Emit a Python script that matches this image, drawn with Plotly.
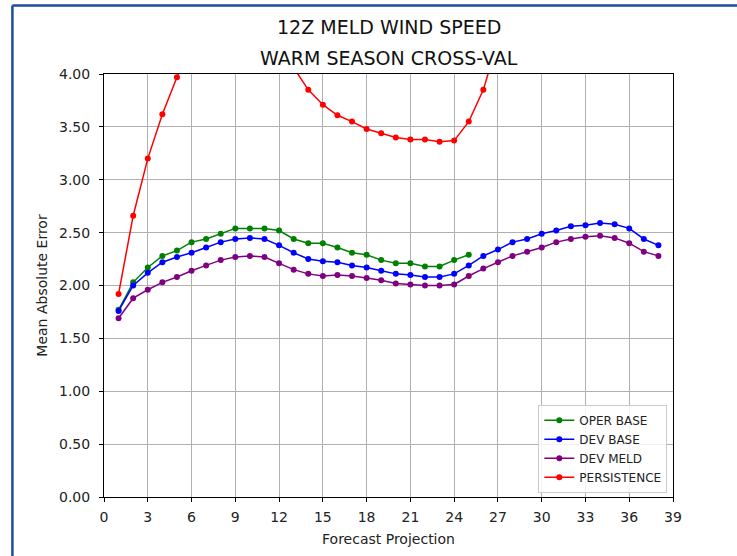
import plotly.graph_objects as go

# Forecast projection (hours) and mean absolute error per guidance product
hours = list(range(1, 39))
oper_base = [1.77, 2.03, 2.17, 2.28, 2.33, 2.41, 2.44, 2.49, 2.54, 2.54,
             2.54, 2.52, 2.44, 2.40, 2.40, 2.36, 2.31, 2.29, 2.24, 2.21,
             2.21, 2.18, 2.18, 2.24, 2.29]
dev_base = [1.76, 2.00, 2.12, 2.22, 2.27, 2.31, 2.36, 2.41, 2.44, 2.45,
            2.44, 2.38, 2.31, 2.25, 2.23, 2.22, 2.19, 2.17, 2.14, 2.11,
            2.10, 2.08, 2.08, 2.11, 2.19, 2.28, 2.34, 2.41, 2.44, 2.49,
            2.52, 2.56, 2.57, 2.59, 2.58, 2.54, 2.44, 2.38]
dev_meld = [1.69, 1.88, 1.96, 2.03, 2.08, 2.14, 2.19, 2.24, 2.27, 2.28,
            2.27, 2.21, 2.15, 2.11, 2.09, 2.10, 2.09, 2.07, 2.05, 2.02,
            2.01, 2.00, 2.00, 2.01, 2.09, 2.16, 2.22, 2.28, 2.32, 2.36,
            2.41, 2.44, 2.46, 2.47, 2.45, 2.40, 2.32, 2.28]
persistence = [1.92, 2.66, 3.20, 3.62, 3.97, 4.30, 4.50, 4.60, 4.65, 4.60,
               4.50, 4.30, 4.06, 3.85, 3.71, 3.61, 3.55, 3.48, 3.44, 3.40,
               3.38, 3.38, 3.36, 3.37, 3.55, 3.85, 4.32]

series = [
    ("OPER BASE", oper_base, "#008000"),
    ("DEV BASE", dev_base, "#0000ff"),
    ("DEV MELD", dev_meld, "#800080"),
    ("PERSISTENCE", persistence, "#ff0000"),
]

x_ticks = list(range(0, 40, 3))
y_ticks = [i * 0.5 for i in range(9)]

FONT = "DejaVu Sans"

fig = go.Figure()
for name, vals, color in series:
    fig.add_trace(go.Scatter(
        x=hours[:len(vals)], y=vals, name=name, mode="lines+markers",
        line=dict(color=color, width=1.5),
        marker=dict(color=color, size=6),
    ))

axis_common = dict(
    showline=True, linecolor="black", linewidth=1, mirror=True,
    showgrid=True, gridcolor="#b0b0b0", gridwidth=1,
    ticks="outside", ticklen=4, tickcolor="black", tickwidth=1,
    zeroline=False,
    tickfont=dict(family=FONT, size=14, color="#222222"),
)

fig.update_xaxes(
    range=[0, 39], tickmode="array", tickvals=x_ticks, ticklabelstandoff=3,
    title=dict(text="Forecast Projection", font=dict(family=FONT, size=14, color="#222222"),
               standoff=10),
    **axis_common,
)
fig.update_yaxes(
    range=[0, 4], tickmode="array", tickvals=y_ticks, tickformat=".2f",
    ticklabelstandoff=6,
    title=dict(text="Mean Absolute Error", font=dict(family=FONT, size=14, color="#222222"),
               standoff=8),
    **axis_common,
)

# Two-line chart heading
for text, ypos in [("12Z MELD WIND SPEED", 1.112), ("WARM SEASON CROSS-VAL", 1.038)]:
    fig.add_annotation(
        text=text, xref="paper", yref="paper", x=0.5, y=ypos,
        xanchor="center", yanchor="middle", showarrow=False,
        font=dict(family=FONT, size=19, color="#111111"),
    )

# Frame lines along the top and left edges of the page
frame = dict(color="#1c4ea0", width=2.5)
fig.add_shape(type="line", xref="paper", yref="paper",
              x0=-0.161, x1=1.2, y0=1.162, y1=1.162, line=frame)
fig.add_shape(type="line", xref="paper", yref="paper",
              x0=-0.161, x1=-0.161, y0=-0.2, y1=1.162, line=frame)

fig.update_layout(
    width=737, height=556,
    margin=dict(l=104, r=64, t=74, b=59),
    paper_bgcolor="white", plot_bgcolor="white",
    font=dict(family=FONT, color="#222222"),
    showlegend=True,
    legend=dict(
        x=0.99, y=0.01, xanchor="right", yanchor="bottom",
        bgcolor="rgba(255,255,255,0.85)", bordercolor="#cccccc", borderwidth=1,
        font=dict(family=FONT, size=12, color="#222222"),
        tracegroupgap=0, itemwidth=30,
    ),
)

fig.write_html("out.html")
